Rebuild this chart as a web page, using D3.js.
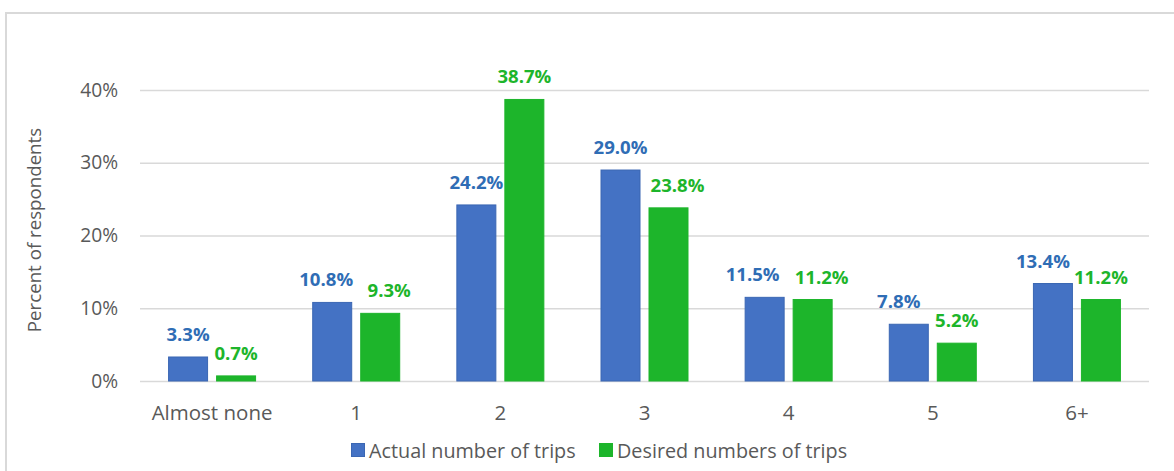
<!DOCTYPE html>
<html>
<head>
<meta charset="utf-8">
<script src="https://cdn.jsdelivr.net/npm/d3@7"></script>
<style>
  html, body { margin: 0; padding: 0; background: #fff; }
  svg { display: block; font-family: "Open Sans", "Noto Sans", sans-serif; }
</style>
</head>
<body>
<svg id="chart" width="1174" height="471"></svg>
<script>
// Trips per period: share of respondents
const categories = ["Almost none", "1", "2", "3", "4", "5", "6+"];
const actualTrips = [3.3, 10.8, 24.2, 29.0, 11.5, 7.8, 13.4];
const desiredTrips = [0.7, 9.3, 38.7, 23.8, 11.2, 5.2, 11.2];
const seriesNames = ["Actual number of trips", "Desired numbers of trips"];
const yTicks = [0, 10, 20, 30, 40];

// horizontal nudges for value labels that would otherwise crowd each other
const actualLabelShift = [0, -6, 0, 0, -12, -10, -10];
const desiredLabelShift = [0, 9, 0, 9, 9, 0, 0];

const colors = { actual: "#4472C4", actualEdge: "#3B67B3", desired: "#1DB52B",
                 actualText: "#2F6DB5", desiredText: "#1DB52B" };

const svg = d3.select("#chart");
const plot = { left: 140, right: 1149, top: 90, bottom: 381 };

// outer frame (top and left edges)
svg.append("path")
  .attr("d", "M6,471 L6,13 L1174,13")
  .attr("fill", "none").attr("stroke", "#D9D9D9").attr("stroke-width", 2);

const x = d3.scaleBand().domain(categories).range([plot.left, plot.right]).padding(0);
const xs = d3.scaleBand().domain(seriesNames)
  .range([x.bandwidth() / 2 - 44, x.bandwidth() / 2 + 44]).paddingInner(8 / 48);
const y = d3.scaleLinear().domain([0, 40]).range([plot.bottom, plot.top]);

// gridlines
const yAxis = d3.axisLeft(y).tickValues(yTicks).tickFormat(d => d + "%")
  .tickSize(-(plot.right - plot.left)).tickPadding(22);
const gy = svg.append("g").attr("transform", `translate(${plot.left},0)`).call(yAxis);
gy.select(".domain").remove();
gy.selectAll(".tick line").attr("stroke", "#D9D9D9").attr("stroke-width", 1.5);
gy.selectAll(".tick text").attr("fill", "#595959").style("font-size", "19.2px")
  .attr("font-family", "Open Sans");

// axis title
svg.append("text")
  .attr("transform", "translate(41,230) rotate(-90)")
  .attr("text-anchor", "middle")
  .attr("fill", "#595959").style("font-size", "18.7px")
  .text("Percent of respondents");

// category labels
const xAxis = d3.axisBottom(x).tickSize(0).tickPadding(0);
const gx = svg.append("g").attr("transform", `translate(0,${plot.bottom})`).call(xAxis);
gx.select(".domain").remove();
gx.selectAll(".tick text").attr("fill", "#595959").style("font-size", "20.5px")
  .attr("font-family", "Open Sans").attr("dy", null).attr("y", 38.5);

const rows = categories.map((c, i) => ({
  cat: c,
  vals: [
    { s: seriesNames[0], v: actualTrips[i], shift: actualLabelShift[i], fill: colors.actual, edge: colors.actualEdge, text: colors.actualText },
    { s: seriesNames[1], v: desiredTrips[i], shift: desiredLabelShift[i], fill: colors.desired, edge: colors.desired, text: colors.desiredText }
  ]
}));

const groups = svg.append("g").selectAll("g").data(rows).join("g")
  .attr("transform", d => `translate(${x(d.cat)},0)`);

groups.selectAll("rect").data(d => d.vals).join("rect")
  .attr("x", d => xs(d.s) + 0.5)
  .attr("width", xs.bandwidth() - 1)
  .attr("y", d => y(d.v))
  .attr("height", d => y(0) - y(d.v))
  .attr("fill", d => d.fill)
  .attr("stroke", d => d.edge).attr("stroke-width", 1);

groups.selectAll("text.val").data(d => d.vals).join("text")
  .attr("class", "val")
  .attr("x", d => xs(d.s) + xs.bandwidth() / 2 + d.shift)
  .attr("y", d => y(d.v) - 16)
  .attr("text-anchor", "middle")
  .attr("fill", d => d.text)
  .style("font-size", "18.6px").style("font-weight", "bold")
  .text(d => d.v.toFixed(1) + "%");

// legend
const legend = svg.append("g");
const legendItems = [
  { name: seriesNames[0], color: colors.actual, edge: colors.actualEdge, x: 351 },
  { name: seriesNames[1], color: colors.desired, edge: colors.desired, x: 599 }
];
legendItems.forEach(it => {
  legend.append("rect").attr("x", it.x + 0.5).attr("y", 443.5).attr("width", 13).attr("height", 13)
    .attr("fill", it.color).attr("stroke", it.edge);
  legend.append("text").attr("x", it.x + 18).attr("y", 457.5)
    .attr("fill", "#595959").style("font-size", "19.8px").text(it.name);
});
</script>
</body>
</html>
